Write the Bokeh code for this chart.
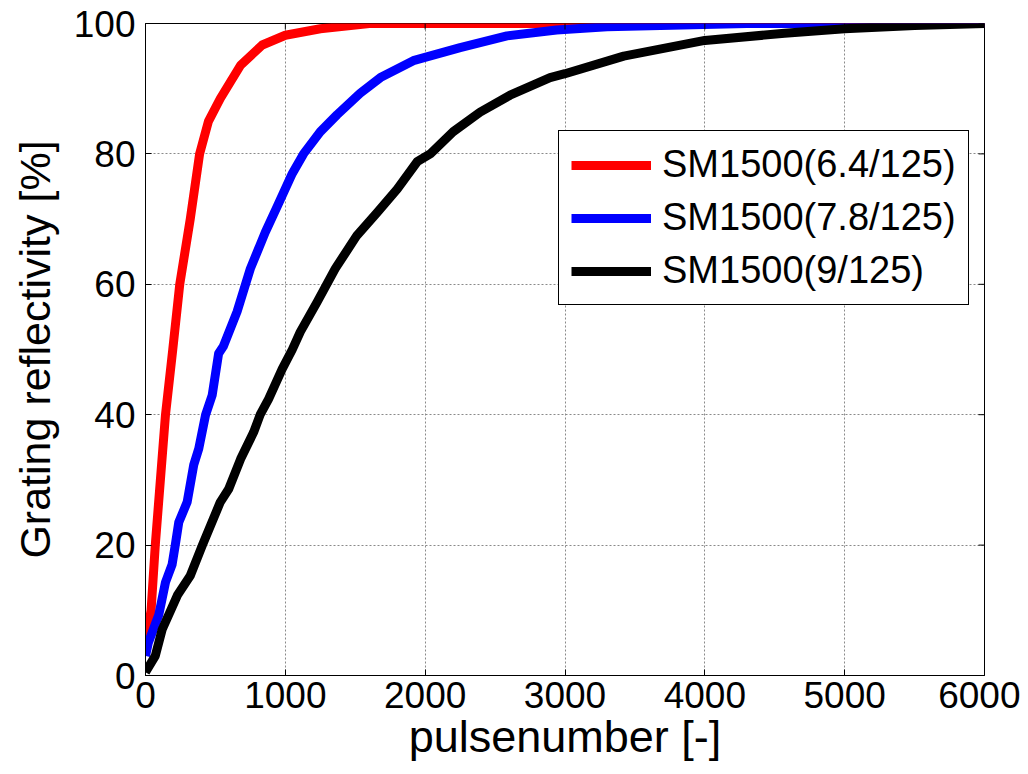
from bokeh.plotting import figure
from bokeh.models import Range1d, FixedTicker, Legend
from bokeh.embed import file_html
from bokeh.resources import INLINE

# ---- data ----
red_x = [0, 40, 70, 143, 195, 245, 320, 387, 450, 535, 680, 835, 1000, 1250, 1600, 6000]
red_y = [5, 10, 20, 40, 50, 60, 70, 80, 85, 88.5, 93.6, 96.7, 98.2, 99.2, 100, 100]

blue_x = [0, 20, 95, 143, 190, 213, 238, 298, 345, 381, 430, 477, 523, 557, 655, 750, 857,
          943, 1050, 1130, 1250, 1370, 1535, 1680, 1915, 2250, 2585, 2940, 3300, 4300, 6000]
blue_y = [3, 5, 9.3, 14.3, 17, 20, 23.5, 26.6, 32.3, 34.8, 40, 43, 49.4, 50.5, 55.8, 62.4, 68,
          72, 77, 80, 83.4, 86, 89.3, 91.7, 94.3, 96.3, 98.1, 99, 99.5, 100, 100]

black_x = [0, 70, 120, 228, 320, 407, 535, 595, 680, 773, 820, 880, 977, 1050, 1107, 1228,
           1357, 1512, 1657, 1800, 1943, 2036, 2200, 2393, 2607, 2893, 3000, 3420, 4000, 4570,
           5000, 5500, 6000]
black_y = [0.5, 3, 7.1, 12.3, 15.3, 20, 26.6, 28.6, 33.2, 37.3, 40, 42.4, 47, 50, 52.7, 57.3,
           62.4, 67.5, 71, 74.6, 78.8, 80, 83.4, 86.4, 89, 91.7, 92.3, 95, 97.4, 98.5,
           99.2, 99.7, 100]

labels = ["SM1500(6.4/125)", "SM1500(7.8/125)", "SM1500(9/125)"]
x_ticks = [0, 1000, 2000, 3000, 4000, 5000, 6000]
y_ticks = [0, 20, 40, 60, 80, 100]

FONT = "Liberation Sans"
X_MIN, X_MAX, Y_MIN, Y_MAX = 0, 6000, 0, 100

p = figure(width=1020, height=770, output_backend="svg", toolbar_location=None,
           x_range=Range1d(X_MIN, X_MAX), y_range=Range1d(Y_MIN, Y_MAX),
           min_border_left=145, min_border_right=36, min_border_top=23, min_border_bottom=95)

p.outline_line_color = "black"
p.outline_line_width = 1
p.background_fill_color = "white"
p.border_fill_color = "white"

r1 = p.line(red_x, red_y, line_color="#ff0000", line_width=9, line_join="round")
r2 = p.line(blue_x, blue_y, line_color="#0000ff", line_width=9, line_join="round")
r3 = p.line(black_x, black_y, line_color="#000000", line_width=9, line_join="round")

for ax in (p.xaxis[0], p.yaxis[0]):
    ax.major_tick_in = 6
    ax.major_tick_out = 0
    ax.minor_tick_in = 0
    ax.minor_tick_out = 0
    ax.axis_line_color = "black"
    ax.major_tick_line_color = "black"
    ax.major_label_text_font = FONT
    ax.major_label_text_font_size = "37px"
    ax.major_label_text_color = "black"
    ax.axis_label_text_font = FONT
    ax.axis_label_text_font_style = "normal"
    ax.axis_label_text_color = "black"

p.xaxis[0].axis_label_text_font_size = "45px"
p.yaxis[0].axis_label_text_font_size = "43px"
p.xaxis[0].ticker = FixedTicker(ticks=x_ticks)
p.yaxis[0].ticker = FixedTicker(ticks=y_ticks)
p.xaxis[0].axis_label = "pulsenumber [-]"
p.yaxis[0].axis_label = "Grating reflectivity [%]"
p.xaxis[0].major_label_standoff = 6
p.xaxis[0].axis_label_standoff = 0
p.yaxis[0].major_label_standoff = 10
p.yaxis[0].axis_label_standoff = 12

# mirrored inward tick marks on the top and right edges (box on)
tick_len_y = (Y_MAX - Y_MIN) * 6 / 652
tick_len_x = (X_MAX - X_MIN) * 6 / 839
p.segment(x0=x_ticks, y0=[Y_MAX] * len(x_ticks), x1=x_ticks,
          y1=[Y_MAX - tick_len_y] * len(x_ticks), line_color="black", line_width=1)
p.segment(x0=[X_MAX] * len(y_ticks), y0=y_ticks, x1=[X_MAX - tick_len_x] * len(y_ticks),
          y1=y_ticks, line_color="black", line_width=1)

p.xgrid.ticker = FixedTicker(ticks=x_ticks)
p.ygrid.ticker = FixedTicker(ticks=y_ticks)
for g in (p.xgrid[0], p.ygrid[0]):
    g.grid_line_color = "#8a8a8a"
    g.grid_line_dash = "2 2"
    g.grid_line_width = 1

legend = Legend(items=[(labels[0], [r1]), (labels[1], [r2]), (labels[2], [r3])],
                location=(413, 370), padding=12, spacing=10,
                glyph_width=80, glyph_height=38, label_height=38, label_standoff=11,
                label_text_font=FONT, label_text_font_size="38px", label_text_color="black",
                border_line_color="black", border_line_width=1, border_line_alpha=1.0,
                background_fill_color="white", background_fill_alpha=1.0, margin=0)
p.add_layout(legend, "center")

open("out.html", "w").write(file_html(p, INLINE))
